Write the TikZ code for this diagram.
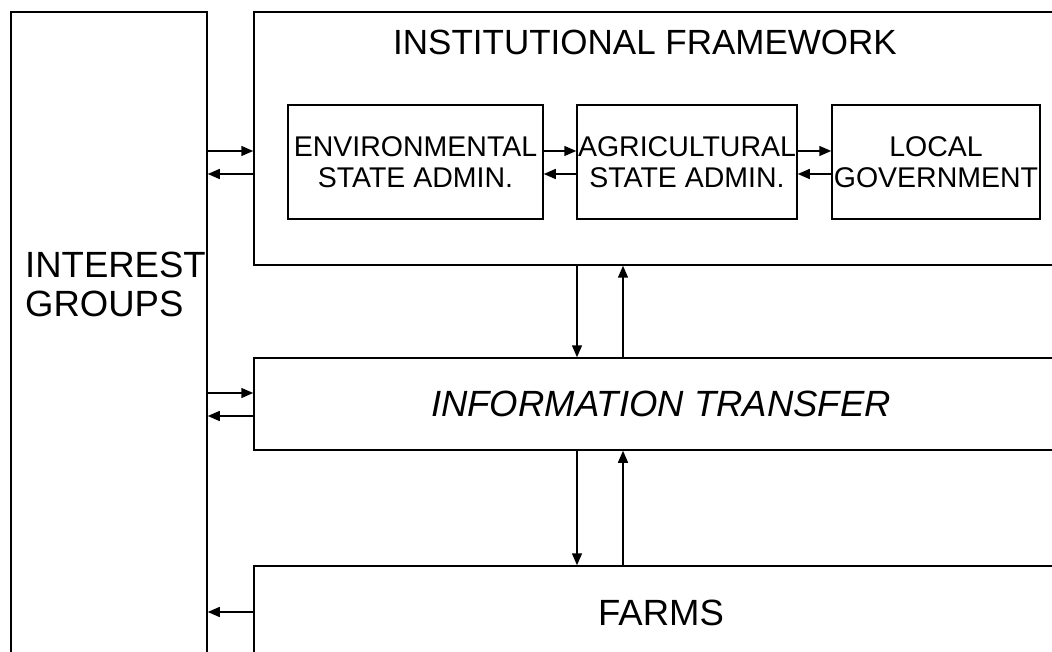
\documentclass[tikz,border=0pt]{standalone}
\usepackage{fontspec}
\setmainfont{Liberation Sans}
\usetikzlibrary{arrows.meta,positioning}
\tikzset{
  panel/.style={draw, line width=1.5pt, inner sep=0pt},
  subpanel/.style={panel, minimum height=114pt, align=center, font=\fontsize{28.5}{31}\selectfont},
  flow/.style={line width=1.5pt, -{Triangle[length=12pt,width=10pt]}},
  bigtext/.style={inner sep=0pt, font=\fontsize{36.5}{39}\selectfont},
}
\begin{document}
\begin{tikzpicture}[x=1pt,y=-1pt]
  \useasboundingbox (0,0) rectangle (1052,652);
  \clip (0,0) rectangle (1052,652);
  % outer panels
  \node[panel, minimum width=196pt, minimum height=688pt] (groups) at (109,356) {};
  \node[bigtext, align=left, anchor=west] (groupstext) at (25,284) {INTEREST\\GROUPS};
  \node[panel, minimum width=814pt, minimum height=253pt] (inst) at (661,138.5) {};
  \node[bigtext, anchor=base, font=\fontsize{35}{39}\selectfont] (insttext) at (645,55) {INSTITUTIONAL FRAMEWORK};
  \node[panel, bigtext, minimum width=814pt, minimum height=92pt, font=\fontsize{36.5}{39}\selectfont\itshape] (info) at (661,404) {INFORMATION TRANSFER};
  \node[panel, bigtext, minimum width=814pt, minimum height=94pt] (farms) at (661,613) {FARMS};
  % administrations
  \node[subpanel, minimum width=255pt] (env) at (415.5,162) {ENVIRONMENTAL\\STATE ADMIN.};
  \node[subpanel, minimum width=220pt, right=32.5pt of env] (agr) {AGRICULTURAL\\STATE ADMIN.};
  \node[subpanel, minimum width=208pt, right=33.5pt of agr] (local) {LOCAL\\GOVERNMENT};
  % horizontal flows
  \draw[flow] (groups.east |- 0,151) -- (inst.west |- 0,151);
  \draw[flow] (inst.west |- 0,174) -- (groups.east |- 0,174);
  \draw[flow] (env.east |- 0,151) -- (agr.west |- 0,151);
  \draw[flow] (agr.west |- 0,174) -- (env.east |- 0,174);
  \draw[flow] (agr.east |- 0,151) -- (local.west |- 0,151);
  \draw[flow] (local.west |- 0,174) -- (agr.east |- 0,174);
  \draw[flow] (groups.east |- 0,393) -- (info.west |- 0,393);
  \draw[flow] (info.west |- 0,416) -- (groups.east |- 0,416);
  \draw[flow] (farms.west |- 0,612) -- (groups.east |- 0,612);
  % vertical flows
  \draw[flow] (inst.south -| 577,0) -- (info.north -| 577,0);
  \draw[flow] (info.north -| 623,0) -- (inst.south -| 623,0);
  \draw[flow] (info.south -| 577,0) -- (farms.north -| 577,0);
  \draw[flow] (farms.north -| 623,0) -- (info.south -| 623,0);
\end{tikzpicture}
\end{document}
